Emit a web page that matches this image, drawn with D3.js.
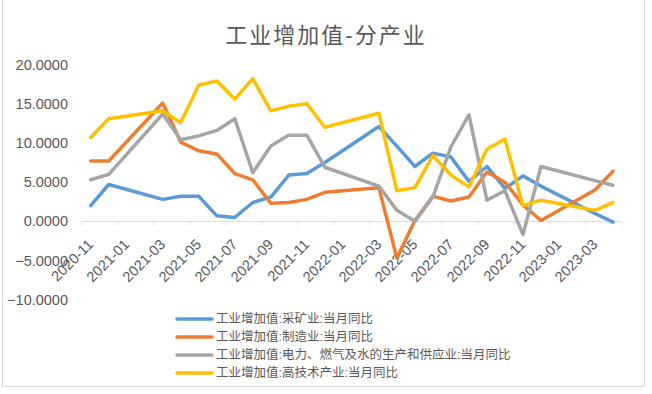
<!DOCTYPE html>
<html>
<head>
<meta charset="utf-8">
<script src="https://cdn.jsdelivr.net/npm/d3@7"></script>
<style>
  body { margin: 0; background: #fff; }
  svg text { font-family: "Liberation Sans", "Noto Sans CJK SC", sans-serif; fill: #595959; }
</style>
</head>
<body>
<div id="chart"></div>
<script>
// Months on the date axis (one slot per month)
const months = [
    '2020-11', '2020-12', '2021-01', '2021-02', '2021-03', '2021-04', '2021-05', '2021-06',
    '2021-07', '2021-08', '2021-09', '2021-10', '2021-11', '2021-12', '2022-01', '2022-02',
    '2022-03', '2022-04', '2022-05', '2022-06', '2022-07', '2022-08', '2022-09', '2022-10',
    '2022-11', '2022-12', '2023-01', '2023-02', '2023-03', '2023-04'
];

// Series values (null = no data that month, line connects over it)
const mining = [2.0, 4.7, null, null, 2.8, 3.2, 3.2, 0.7, 0.5, 2.4, 3.1, 5.9, 6.1, 7.5, null, null,
    12.1, 9.6, 7.0, 8.7, 8.2, 5.1, 7.0, 4.2, 5.8, 4.5, null, null, 1.0, -0.1];
const manufacturing = [7.7, 7.7, null, null, 15.1, 10.1, 9.0, 8.6, 6.1, 5.3, 2.3, 2.4, 2.8, 3.7, null, null,
    4.3, -4.7, 0.1, 3.2, 2.6, 3.1, 6.3, 5.0, 2.1, 0.1, null, null, 4.0, 6.4];
const utilities = [5.3, 6.0, null, null, 13.7, 10.4, 10.9, 11.6, 13.1, 6.2, 9.6, 11.0, 11.0, 6.9, null, null,
    4.5, 1.4, 0.0, 3.1, 9.5, 13.6, 2.7, 3.9, -1.7, 7.0, null, null, 5.2, 4.6];
const hightech = [10.7, 13.1, null, null, 14.1, 12.6, 17.4, 17.9, 15.6, 18.2, 14.1, 14.7, 15.0, 12.0, null, null,
    13.8, 3.9, 4.3, 8.4, 5.9, 4.4, 9.2, 10.5, 2.0, 2.7, null, null, 1.4, 2.4];

const seriesNames = [
    '工业增加值:采矿业:当月同比',
    '工业增加值:制造业:当月同比',
    '工业增加值:电力、燃气及水的生产和供应业:当月同比',
    '工业增加值:高技术产业:当月同比'
];
const seriesColors = ['#5B9BD5', '#ED7D31', '#A5A5A5', '#FFC000'];
const yTicks = [-10, -5, 0, 5, 10, 15, 20];

const width = 652;
const height = 394;

const svg = d3.select('#chart').append('svg')
    .attr('width', width)
    .attr('height', height);

// chart border (top is cropped in the original)
svg.append('path')
    .attr('d', 'M2.5,0 V386.5 H644.5 V0')
    .attr('fill', 'none')
    .attr('stroke', '#d9d9d9')
    .attr('stroke-width', 1);

// Title
svg.append('text')
    .attr('x', 326)
    .attr('y', 43)
    .attr('text-anchor', 'middle')
    .style('font-size', '22px')
    .style('letter-spacing', '2px')
    .text('工业增加值-分产业');

// Scales
const x = d3.scaleBand()
    .domain(months)
    .range([81.7, 622]);

const y = d3.scaleLinear()
    .domain([-10, 20])
    .range([299.7, 64.6]);

const xc = m => x(m) + x.bandwidth() / 2;

// Y labels
svg.append('g')
    .selectAll('text')
    .data(yTicks)
    .enter().append('text')
    .attr('x', 68)
    .attr('y', d => y(d))
    .attr('dy', '0.35em')
    .attr('text-anchor', 'end')
    .style('font-size', '14.5px')
    .text(d => d3.format('.4f')(d));

// X axis line at zero with tick marks
const axisY = y(0);
svg.append('line')
    .attr('x1', x.range()[0]).attr('x2', x.range()[1])
    .attr('y1', axisY).attr('y2', axisY)
    .attr('stroke', '#d9d9d9')
    .attr('stroke-width', 1);

const tickMonths = months.filter((m, i) => i % 2 === 0);
const tickPos = tickMonths.map(m => x(m)).concat([x.range()[1]]);
svg.append('g')
    .selectAll('line')
    .data(tickPos)
    .enter().append('line')
    .attr('x1', d => d).attr('x2', d => d)
    .attr('y1', axisY).attr('y2', axisY + 4)
    .attr('stroke', '#d9d9d9')
    .attr('stroke-width', 1);

// rotated month labels
svg.append('g')
    .selectAll('text')
    .data(tickMonths)
    .enter().append('text')
    .attr('text-anchor', 'end')
    .attr('transform', d => 'translate(' + (xc(d) + 3.5) + ',' + (axisY + 24) + ') rotate(-45)')
    .style('font-size', '14.5px')
    .text(d => d);

// Lines
const line = d3.line()
    .x(d => xc(d.month))
    .y(d => y(d.value));

const allSeries = [mining, manufacturing, utilities, hightech];
allSeries.forEach((values, i) => {
    const pts = months.map((m, j) => ({ month: m, value: values[j] }))
        .filter(d => d.value !== null);
    svg.append('path')
        .datum(pts)
        .attr('d', line)
        .attr('fill', 'none')
        .attr('stroke', seriesColors[i])
        .attr('stroke-width', 3.5)
        .attr('stroke-linejoin', 'round')
        .attr('stroke-linecap', 'round');
});

// Legend
const legend = svg.append('g');
seriesNames.forEach((name, i) => {
    const ly = 319 + i * 18;
    legend.append('line')
        .attr('x1', 177).attr('x2', 212)
        .attr('y1', ly).attr('y2', ly)
        .attr('stroke', seriesColors[i])
        .attr('stroke-width', 3.5)
        .attr('stroke-linecap', 'round');
    legend.append('text')
        .attr('x', 216)
        .attr('y', ly)
        .attr('dy', '0.35em')
        .style('font-size', '12.5px')
        .text(name);
});
</script>
</body>
</html>
